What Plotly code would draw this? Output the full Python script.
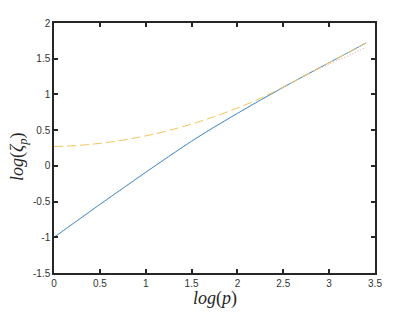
import plotly.graph_objects as go

x_vals = [0, 0.25, 0.5, 0.75, 1.0, 1.25, 1.5, 1.75, 2.0, 2.25, 2.5, 2.75, 3.0, 3.25, 3.4]
blue_vals = [-1.00, -0.77, -0.54, -0.315, -0.09, 0.13, 0.345, 0.545, 0.735, 0.92, 1.10, 1.275, 1.445, 1.615, 1.72]
orange_vals = [-1.00, -0.77, -0.54, -0.315, -0.09, 0.13, 0.345, 0.545, 0.735, 0.92, 1.10, 1.27, 1.425, 1.565, 1.66]
yellow_vals = [0.27, 0.285, 0.315, 0.36, 0.42, 0.495, 0.585, 0.69, 0.81, 0.945, 1.105, 1.275, 1.445, 1.615, 1.72]

x_ticks = [0, 0.5, 1, 1.5, 2, 2.5, 3, 3.5]
x_tick_text = ["0", "0.5", "1", "1.5", "2", "2.5", "3", "3.5"]
y_ticks = [-1.5, -1, -0.5, 0, 0.5, 1, 1.5, 2]
y_tick_text = ["-1.5", "-1", "-0.5", "0", "0.5", "1", "1.5", "2"]

x_label = "<i>log</i>(<i>p</i>)"
y_label = "<i>log</i>(<i>ζ</i><sub><i>p</i></sub>)"

fig = go.Figure()
fig.add_trace(go.Scatter(x=x_vals, y=orange_vals, mode="lines", line_shape="spline",
                         line=dict(color="#EE9A7E", width=1, dash="1px,2px"), showlegend=False))
fig.add_trace(go.Scatter(x=x_vals, y=blue_vals, mode="lines", line_shape="spline",
                         line=dict(color="#3E8FCF", width=1), showlegend=False))
fig.add_trace(go.Scatter(x=x_vals, y=yellow_vals, mode="lines", line_shape="spline",
                         line=dict(color="#F2C55C", width=1, dash="9px,4px"), showlegend=False))

axis_common = dict(
    showline=True, linecolor="#262626", linewidth=1.5, mirror="ticks",
    ticks="inside", ticklen=4, tickwidth=1.5, tickcolor="#262626",
    showgrid=False, zeroline=False, automargin=False,
    tickfont=dict(family="Liberation Sans, Arial, sans-serif", size=10, color="#333333"),
)

fig.update_xaxes(range=[0, 3.5], tickvals=x_ticks, ticktext=x_tick_text, **axis_common)
fig.update_yaxes(range=[-1.5, 2], tickvals=y_ticks, ticktext=y_tick_text, **axis_common)

label_font = dict(family="Liberation Serif, DejaVu Serif, serif", size=18, color="#262626")
fig.add_annotation(text=x_label, xref="paper", yref="paper", x=0.5, y=0, yshift=-25,
                   xanchor="center", yanchor="middle", showarrow=False, font=label_font)
fig.add_annotation(text=y_label, xref="paper", yref="paper", x=0, xshift=-36, y=0.464,
                   xanchor="center", yanchor="middle", textangle=-90, showarrow=False, font=label_font)

fig.update_layout(
    width=415, height=312,
    margin=dict(l=54, r=40, t=23, b=39),
    paper_bgcolor="white", plot_bgcolor="white",
)

fig.write_html("out.html", config={"displayModeBar": False},
               post_script="document.body.style.margin='0';document.body.style.overflow='hidden';")
